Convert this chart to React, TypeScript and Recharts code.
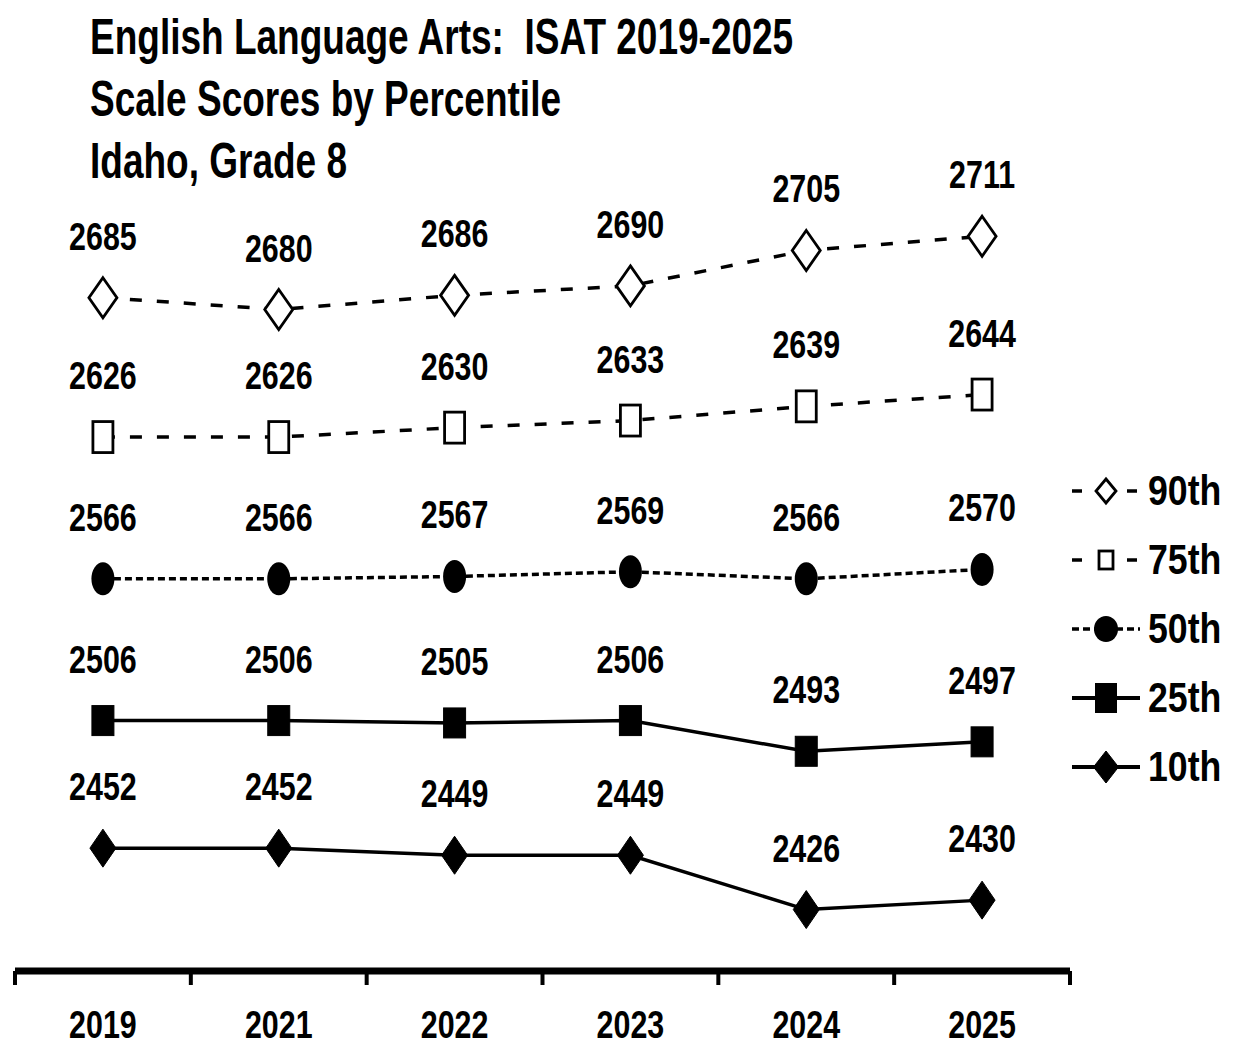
import React from "react";
import { LineChart, Line, XAxis, YAxis, LabelList } from "recharts";

const YEARS = ["2019", "2021", "2022", "2023", "2024", "2025"];
const P90 = [2685, 2680, 2686, 2690, 2705, 2711];
const P75 = [2626, 2626, 2630, 2633, 2639, 2644];
const P50 = [2566, 2566, 2567, 2569, 2566, 2570];
const P25 = [2506, 2506, 2505, 2506, 2493, 2497];
const P10 = [2452, 2452, 2449, 2449, 2426, 2430];

const TITLE = ["English Language Arts:  ISAT 2019-2025", "Scale Scores by Percentile", "Idaho, Grade 8"];

// No Arial Narrow here, so squeeze Liberation Sans Bold horizontally instead.
const FONT = "'Liberation Sans', Arial, sans-serif";
const INK = "#000";

const W = 1234;
const H = 1046;
const MARGIN = { top: 26, right: 164, bottom: 0, left: 15 };
// half a category slot; tick marks sit on the slot edges, labels in the middle
const HALF_BAND = (W - MARGIN.left - MARGIN.right) / YEARS.length / 2;

const data = YEARS.map((year, i) => ({
  year,
  p90: P90[i],
  p75: P75[i],
  p50: P50[i],
  p25: P25[i],
  p10: P10[i],
}));

type Kind = "openDiamond" | "openSquare" | "dot" | "square" | "diamond";

/** Marker drawn around (cx, cy); sizes are w x h in px. */
function Marker({ cx, cy, kind, w, h }: { cx?: number; cy?: number; kind: Kind; w: number; h: number }) {
  if (cx == null || cy == null) return null;
  const hw = w / 2;
  const hh = h / 2;
  if (kind === "openDiamond" || kind === "diamond") {
    const open = kind === "openDiamond";
    return (
      <polygon
        points={`${cx},${cy - hh} ${cx + hw},${cy} ${cx},${cy + hh} ${cx - hw},${cy}`}
        fill={open ? "#fff" : INK}
        stroke={INK}
        strokeWidth={open ? 2.8 : 1}
      />
    );
  }
  if (kind === "openSquare" || kind === "square") {
    const open = kind === "openSquare";
    return (
      <rect
        x={cx - hw}
        y={cy - hh}
        width={w}
        height={h}
        fill={open ? "#fff" : INK}
        stroke={INK}
        strokeWidth={open ? 2.8 : 1}
      />
    );
  }
  return <ellipse cx={cx} cy={cy} rx={hw} ry={hh} fill={INK} />;
}

interface Series {
  key: string;
  name: string;
  kind: Kind;
  dash?: string;
  mw: number;
  mh: number;
  // legend marker size
  lw: number;
  lh: number;
  legendDash?: string;
}

const SERIES: Series[] = [
  { key: "p90", name: "90th", kind: "openDiamond", dash: "12 15", mw: 28, mh: 40, lw: 20, lh: 24, legendDash: "10 45" },
  { key: "p75", name: "75th", kind: "openSquare", dash: "12 15", mw: 20, mh: 31, lw: 14, lh: 18, legendDash: "10 45" },
  { key: "p50", name: "50th", kind: "dot", dash: "7 4", mw: 23, mh: 33, lw: 24, lh: 26, legendDash: "7 4" },
  { key: "p25", name: "25th", kind: "square", mw: 22, mh: 30, lw: 21, lh: 29 },
  { key: "p10", name: "10th", kind: "diamond", mw: 26, mh: 38, lw: 25, lh: 32 },
];

function NarrowText({ x, y, size, sx, children }: { x: number; y: number; size: number; sx: number; children: React.ReactNode }) {
  return (
    <text
      transform={`translate(${x},${y}) scale(${sx},1)`}
      textAnchor="middle"
      fontFamily={FONT}
      fontWeight={700}
      fontSize={size}
      fill={INK}
    >
      {children}
    </text>
  );
}

function ValueLabel(props: { x?: number; y?: number; value?: number }) {
  const { x, y, value } = props;
  if (x == null || y == null) return null;
  return (
    <NarrowText x={x} y={y - 48} size={38} sx={0.8}>
      {value}
    </NarrowText>
  );
}

/** Year label in the middle of its slot, plus the tick mark(s) on the slot edges. */
function YearTick(props: { x?: number; y?: number; index?: number; payload?: { value: string } }) {
  const { x, y, index, payload } = props;
  if (x == null || y == null || !payload) return null;
  const axisY = MARGIN.top + (H - MARGIN.top - 75);
  const edges = [x - HALF_BAND];
  if (index === YEARS.length - 1) edges.push(x + HALF_BAND);
  return (
    <g>
      {edges.map((ex) => (
        <line key={ex} x1={ex} x2={ex} y1={axisY} y2={axisY + 14} stroke={INK} strokeWidth={4} />
      ))}
      <NarrowText x={x} y={1038} size={38} sx={0.8}>
        {payload.value}
      </NarrowText>
    </g>
  );
}

function LegendBox() {
  return (
    <div style={{ position: "absolute", left: 1068, top: 456, width: 166 }}>
      {SERIES.map((s) => (
        <div key={s.key} style={{ height: 69, display: "flex", alignItems: "center" }}>
          <svg width={76} height={40} style={{ flex: "none" }}>
            <line
              x1={4}
              x2={72}
              y1={20}
              y2={20}
              stroke={INK}
              strokeWidth={s.dash ? 3.5 : 4}
              strokeDasharray={s.legendDash}
            />
            <Marker cx={38} cy={20} kind={s.kind} w={s.lw} h={s.lh} />
          </svg>
          <span
            style={{
              fontFamily: FONT,
              fontWeight: 700,
              fontSize: 42,
              lineHeight: "42px",
              marginLeft: 4,
              color: INK,
              display: "inline-block",
              transform: "scaleX(0.85)",
              transformOrigin: "left center",
              whiteSpace: "nowrap",
            }}
          >
            {s.name}
          </span>
        </div>
      ))}
    </div>
  );
}

export default function App() {
  return (
    <div style={{ position: "relative", width: W, height: H, background: "#fff", overflow: "hidden" }}>
      <style>{"body{margin:0}"}</style>
      <LineChart width={W} height={H} data={data} margin={MARGIN}>
        <XAxis
          dataKey="year"
          type="category"
          scale="band"
          height={75}
          axisLine={{ stroke: INK, strokeWidth: 7 }}
          tickLine={false}
          tick={<YearTick />}
          interval={0}
        />
        <YAxis domain={[2400, 2800]} hide />
        {SERIES.map((s) => (
          <Line
            key={s.key}
            dataKey={s.key}
            name={s.name}
            stroke={INK}
            strokeWidth={s.dash ? 3.5 : 3.5}
            strokeDasharray={s.dash}
            dot={<Marker kind={s.kind} w={s.mw} h={s.mh} />}
            activeDot={false}
            isAnimationActive={false}
          >
            <LabelList dataKey={s.key} content={<ValueLabel />} />
          </Line>
        ))}
      </LineChart>
      <LegendBox />
      <div style={{ position: "absolute", left: 90, top: 6 }}>
        {TITLE.map((t) => (
          <div
            key={t}
            style={{
              fontFamily: FONT,
              fontWeight: 700,
              fontSize: 50,
              lineHeight: "62px",
              height: 62,
              color: INK,
              whiteSpace: "pre",
              transform: "scaleX(0.74)",
              transformOrigin: "left center",
            }}
          >
            {t}
          </div>
        ))}
      </div>
    </div>
  );
}
